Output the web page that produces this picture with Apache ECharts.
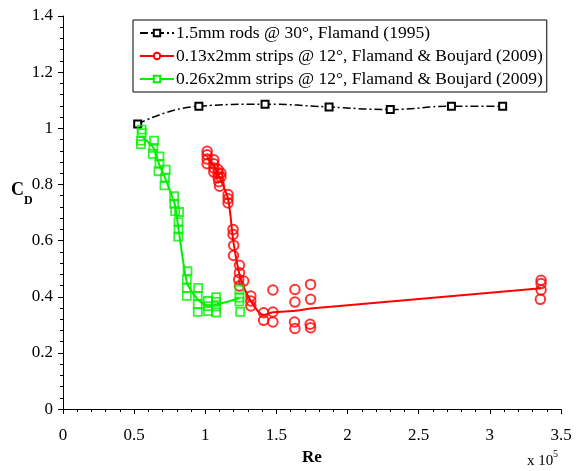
<!DOCTYPE html>
<html>
<head>
<meta charset="utf-8">
<script src="https://cdn.jsdelivr.net/npm/echarts@6.0.0/dist/echarts.min.js"></script>
<style>html,body{margin:0;padding:0;background:#fff;}#c{width:578px;height:471px;}</style>
</head>
<body>
<div id="c"></div>
<script>
// ---- data (Re in units of 1e5, CD) ----
const nameBlack = '1.5mm rods @ 30\u00b0, Flamand (1995)';
const nameRed = '0.13x2mm strips @ 12\u00b0, Flamand & Boujard (2009)';
const nameGreen = '0.26x2mm strips @ 12\u00b0, Flamand & Boujard (2009)';

const reBlack = [0.525, 0.955, 1.42, 1.87, 2.30, 2.73, 3.09];
const cdBlack = [1.015, 1.079, 1.086, 1.076, 1.067, 1.079, 1.079];

const reRed = [1.013,1.013,1.013,1.013, 1.06,1.06,1.06,1.06, 1.09,1.09,1.09,1.095,1.10, 1.11,1.11,
  1.16,1.16,1.16, 1.195,1.195,1.20,1.198, 1.24,1.24,1.235,1.24, 1.27, 1.32,1.32,1.32,
  1.41,1.41, 1.475,1.475,1.475, 1.63,1.63,1.627,1.63, 1.74,1.74,1.737,1.74, 3.36,3.36,3.36,3.355];
const cdRed = [0.918,0.906,0.891,0.874, 0.888,0.874,0.859,0.844, 0.853,0.839,0.824,0.810,0.794, 0.841,0.827,
  0.764,0.749,0.734, 0.640,0.622,0.583,0.547, 0.512,0.486,0.462,0.438, 0.456, 0.403,0.385,0.367,
  0.343,0.316, 0.424,0.346,0.310, 0.426,0.381,0.310,0.287, 0.444,0.391,0.302,0.290, 0.459,0.447,0.424,0.391];
const reRedLine = [1.013, 1.06, 1.10, 1.16, 1.197, 1.245, 1.32, 1.41, 1.475, 1.63, 1.74, 3.36];
const cdRedLine = [0.897, 0.866, 0.825, 0.749, 0.598, 0.471, 0.385, 0.335, 0.345, 0.350, 0.358, 0.430];

const reGreen = [0.553,0.553,0.548,0.548, 0.640,0.635,0.631, 0.678,0.678,0.671, 0.722,0.717,0.713,
  0.781,0.781,0.788,0.816, 0.812,0.812,0.810,
  0.875,0.870,0.870,0.870, 0.950,0.947,0.947,0.947, 1.018,1.018,1.018, 1.076,1.076,1.076,1.076,
  1.240,1.240,1.240,1.245];
const cdGreen = [0.995,0.983,0.956,0.944, 0.956,0.930,0.909, 0.900,0.873,0.847, 0.853,0.823,0.797,
  0.758,0.731,0.705,0.702, 0.666,0.640,0.614,
  0.491,0.462,0.432,0.403, 0.432,0.403,0.373,0.346, 0.385,0.367,0.349, 0.399,0.382,0.365,0.344,
  0.426,0.397,0.383,0.346];
const reGreenLine = [0.553, 0.635, 0.675, 0.717, 0.785, 0.812, 0.873, 0.95, 1.018, 1.076, 1.24];
const cdGreenLine = [0.972, 0.931, 0.873, 0.824, 0.730, 0.640, 0.447, 0.389, 0.367, 0.372, 0.395];

const xMin = 0, xMax = 3.5, xStep = 0.5;
const yMin = 0, yMax = 1.4, yStep = 0.2;

const zip = (a, b) => a.map((v, i) => [v, b[i]]);
const FONT = 'Liberation Serif';
const GREEN = '#00f000';
const RED = '#ff0000';

const chart = echarts.init(document.getElementById('c'), null, {renderer: 'canvas'});
const axisCommon = {
  type: 'value',
  axisLine: {show: true, lineStyle: {color: '#000', width: 1}},
  axisTick: {show: true, length: 5, lineStyle: {color: '#000', width: 1}},
  minorTick: {show: true, splitNumber: 5, length: 3, lineStyle: {color: '#000', width: 1}},
  splitLine: {show: false},
  minorSplitLine: {show: false}
};
chart.setOption({
  animation: false,
  backgroundColor: '#fff',
  textStyle: {fontFamily: FONT},
  grid: {left: 63, right: 17, top: 16, bottom: 61},
  xAxis: Object.assign({}, axisCommon, {
    min: xMin, max: xMax, interval: xStep,
    axisLabel: {color: '#000', fontSize: 17, fontFamily: FONT, margin: 18},
    name: 'Re', nameLocation: 'middle', nameGap: 31,
    nameTextStyle: {color: '#000', fontSize: 17, fontWeight: 'bold', fontFamily: FONT}
  }),
  yAxis: Object.assign({}, axisCommon, {
    min: yMin, max: yMax, interval: yStep,
    axisLabel: {color: '#000', fontSize: 17, fontFamily: FONT, margin: 10}
  }),
  legend: {
    data: [nameBlack, nameRed, nameGreen],
    orient: 'vertical', left: 133, top: 20,
    itemWidth: 34, itemHeight: 8, itemGap: 5,
    padding: [4, 4, 4, 6],
    borderColor: '#000', borderWidth: 1, backgroundColor: '#fff',
    textStyle: {color: '#000', fontSize: 17.5, fontFamily: FONT, padding: [0, 0, 0, -3]}
  },
  graphic: [
    {type: 'text', left: 11, top: 181, style: {text: 'C', font: 'bold 18px "Liberation Serif"', fill: '#000'}},
    {type: 'text', left: 24, top: 195, style: {text: 'D', font: 'bold 12px "Liberation Serif"', fill: '#000'}},
    {type: 'text', left: 527, top: 454, style: {text: 'x 10', font: '15px "Liberation Serif"', fill: '#000'}},
    {type: 'text', left: 553, top: 449, style: {text: '5', font: '10px "Liberation Serif"', fill: '#000'}}
  ],
  series: [
    {
      name: nameBlack, type: 'line', data: zip(reBlack, cdBlack), smooth: 0.5,
      symbol: 'rect', symbolSize: 7, z: 3,
      itemStyle: {color: '#fff', borderColor: '#000', borderWidth: 2},
      lineStyle: {color: '#000', width: 1.5, type: [8, 3, 2, 3]}
    },
    {
      name: nameRed, type: 'line', data: zip(reRedLine, cdRedLine), smooth: 0.3,
      showSymbol: false, symbol: 'circle', symbolSize: 8, z: 2,
      itemStyle: {color: '#fff', borderColor: RED, borderWidth: 2},
      lineStyle: {color: RED, width: 2}
    },
    {
      name: 'redPoints', type: 'scatter', data: zip(reRed, cdRed),
      symbol: 'circle', symbolSize: 9.5, z: 3,
      itemStyle: {color: 'rgba(255,255,255,0)', borderColor: RED, borderWidth: 2}
    },
    {
      name: nameGreen, type: 'line', data: zip(reGreenLine, cdGreenLine), smooth: 0.2,
      showSymbol: false, symbol: 'rect', symbolSize: 7, z: 2,
      itemStyle: {color: '#fff', borderColor: GREEN, borderWidth: 2},
      lineStyle: {color: GREEN, width: 2}
    },
    {
      name: 'greenPoints', type: 'scatter', data: zip(reGreen, cdGreen),
      symbol: 'rect', symbolSize: 8, z: 3,
      itemStyle: {color: 'rgba(255,255,255,0)', borderColor: GREEN, borderWidth: 1.8}
    }
  ]
});
</script>
</body>
</html>
